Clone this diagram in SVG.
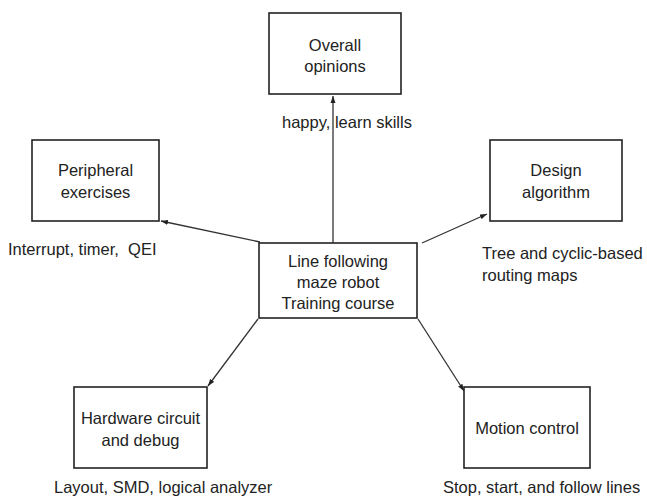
<svg xmlns="http://www.w3.org/2000/svg" width="647" height="504" viewBox="0 0 647 504">
<style>
.box{fill:#fff;stroke:#222;stroke-width:1.6}
.t{font-family:"Liberation Sans",Arial,sans-serif;font-size:16.5px;fill:#222}
.c{text-anchor:middle}
.ln{stroke:#333;stroke-width:1.3;fill:none;marker-end:url(#ah)}
</style>
<defs>
<marker id="ah" markerUnits="userSpaceOnUse" markerWidth="8" markerHeight="6" refX="7" refY="3" orient="auto">
<path d="M0,0.5 L7,3 L0,5.5 z" fill="#222"/>
</marker>
</defs>
<rect width="647" height="504" fill="#fff"/>
<g id="connectors">
<line class="ln" x1="333" y1="243" x2="333" y2="96"/>
<line class="ln" x1="260" y1="242" x2="161" y2="221"/>
<line class="ln" x1="422" y1="243" x2="487" y2="214"/>
<line class="ln" x1="258" y1="319" x2="208" y2="386"/>
<line class="ln" x1="418" y1="319" x2="464" y2="391"/>
</g>
<g id="center">
<rect class="box" x="259" y="243" width="158" height="75"/>
<text class="t c" x="338" y="267">Line following</text>
<text class="t c" x="338" y="288">maze robot</text>
<text class="t c" x="338" y="309">Training course</text>
</g>
<g id="overall">
<rect class="box" x="269" y="13" width="132" height="81"/>
<text class="t c" x="335" y="51">Overall</text>
<text class="t c" x="335" y="72">opinions</text>
<text class="t" x="282" y="128">happy, learn skills</text>
</g>
<g id="peripheral">
<rect class="box" x="32" y="140" width="127" height="81"/>
<text class="t c" x="95.5" y="176">Peripheral</text>
<text class="t c" x="95.5" y="198">exercises</text>
<text class="t" x="8" y="255" xml:space="preserve">Interrupt, timer,  QEI</text>
</g>
<g id="design">
<rect class="box" x="490" y="140" width="132" height="81"/>
<text class="t c" x="556" y="176">Design</text>
<text class="t c" x="556" y="198">algorithm</text>
<text class="t" x="482" y="259">Tree and cyclic-based</text>
<text class="t" x="482" y="281">routing maps</text>
</g>
<g id="hardware">
<rect class="box" x="74" y="387" width="133" height="81"/>
<text class="t c" x="140.5" y="424">Hardware circuit</text>
<text class="t c" x="140.5" y="446">and debug</text>
<text class="t" x="54" y="493">Layout, SMD, logical analyzer</text>
</g>
<g id="motion">
<rect class="box" x="464" y="387" width="126" height="81"/>
<text class="t c" x="527" y="434">Motion control</text>
<text class="t" x="443" y="493">Stop, start, and follow lines</text>
</g>
</svg>
